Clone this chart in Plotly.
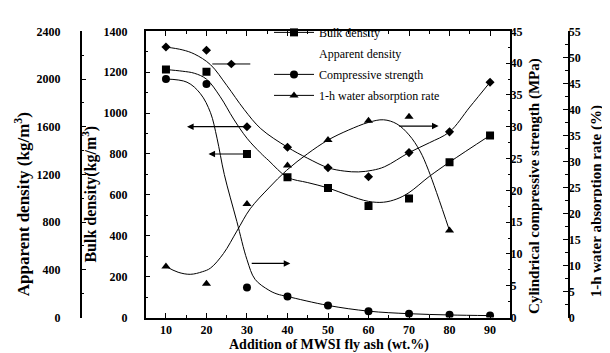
import plotly.graph_objects as go

W, H = 610, 353

# ---------------- data ----------------
x_add = [10, 20, 30, 40, 50, 60, 70, 80, 90]
bulk_density = [1213, 1202, 800, 686, 634, 545, 582, 760, 891]
apparent_density = [2268, 2241, 1600, 1428, 1256, 1181, 1383, 1557, 1973]
comp_strength = [37.5, 36.7, 4.7, 3.3, 1.9, 1.0, 0.6, 0.45, 0.3]
water_x = [10, 20, 30, 40, 50, 60, 70, 80]
water_abs = [9.8, 6.5, 21.8, 29.2, 34.1, 37.8, 38.6, 16.7]

# fitted trend curves (knots)
bulk_fit_x = [10, 14, 17, 20, 23.4, 26.7, 30, 33.3, 35.4, 40, 45, 50, 55, 60, 63.7, 67, 70, 75, 80, 90]
bulk_fit_y = [1213, 1205, 1195, 1166, 1080, 971, 877, 806, 767, 686, 660, 634, 598, 568, 564, 580, 611, 690, 760, 891]
app_fit_x = [10, 14, 17, 21, 25, 29.3, 33.4, 40, 45, 50, 54, 57.5, 61, 64, 70, 75, 80, 85, 90]
app_fit_y = [2268, 2245, 2210, 2120, 1947, 1745, 1584, 1428, 1335, 1256, 1228, 1221, 1235, 1265, 1383, 1465, 1557, 1765, 1973]
str_fit_x = [10, 15.2, 18.5, 21, 22.6, 24.4, 27.5, 30, 32, 35.4, 37.4, 40, 50, 60, 70, 80, 90]
str_fit_y = [37.5, 37.0, 35.2, 32.2, 28.2, 22.5, 15.1, 9.1, 6.0, 4.3, 3.7, 3.3, 1.9, 1.0, 0.6, 0.4, 0.3]
wat_fit_x = [10, 13, 16, 19, 21, 24.2, 27.5, 30.8, 35.4, 39.8, 45, 50, 55, 60, 63.7, 67, 70, 72.7, 74.8, 80]
wat_fit_y = [9.8, 8.7, 8.3, 8.8, 9.5, 12.3, 16.6, 20.9, 24.9, 28.3, 31.5, 34.1, 36.0, 37.5, 38.0, 37.2, 35.1, 32.0, 28.3, 16.7]

x_ticks = [10, 20, 30, 40, 50, 60, 70, 80, 90]

# ---------------- layout geometry ----------------
PX_L, PX_R, PY_T, PY_B = 137.7, 502.3, 17, 315
xdom = [PX_L / W, PX_R / W]
ydom = [(H - PY_B) / H, (H - PY_T) / H]
FONT = "Liberation Serif"
BLACK = "#000000"

fig = go.Figure()

def curve(x, y, yaxis):
    fig.add_trace(go.Scatter(x=x, y=y, yaxis=yaxis, mode="lines", line=dict(color=BLACK, width=1, shape="spline", smoothing=1.0),
                             showlegend=False, hoverinfo="skip"))

def marks(x, y, yaxis, symbol, size):
    fig.add_trace(go.Scatter(x=x, y=y, yaxis=yaxis, mode="markers",
                             marker=dict(symbol=symbol, size=size, color=BLACK, line=dict(width=0)),
                             showlegend=False))

curve(bulk_fit_x, bulk_fit_y, "y")
curve(app_fit_x, app_fit_y, "y2")
curve(str_fit_x, str_fit_y, "y3")
curve(wat_fit_x, wat_fit_y, "y4")
marks(x_add, bulk_density, "y", "square", 8)
marks(x_add, apparent_density, "y2", "diamond", 7)
marks(x_add, comp_strength, "y3", "circle", 8)
marks(water_x, water_abs, "y4", "triangle-up", 8)

# legend entries
legend_items = [("Bulk density", "square", 8, True),
                ("Apparent density", "diamond", 7, False),
                ("Compressive strength", "circle", 8, True),
                ("1-h water absorption rate", "triangle-up", 8, True)]
for i, (name, sym, sz, vis) in enumerate(legend_items):
    if vis:
        fig.add_trace(go.Scatter(x=[None], y=[None], name=name, mode="lines+markers",
                                 line=dict(color=BLACK, width=1),
                                 marker=dict(symbol=sym, size=sz, color=BLACK),
                                 legendgroup=f"g{i}"))
    else:
        fig.add_trace(go.Scatter(x=[None], y=[None], name=name, mode="lines",
                                 line=dict(color="rgba(0,0,0,0)", width=1),
                                 legendgroup=f"g{i}"))

tickfont = dict(family=FONT, size=12, color=BLACK, weight="bold")
common_y = dict(showline=True, linecolor=BLACK, linewidth=1.5, showgrid=False, zeroline=False,
                ticks="inside", ticklen=5, tickwidth=1.2, tickcolor=BLACK, tickfont=tickfont)

fig.update_layout(
    width=W, height=H, margin=dict(l=0, r=0, t=0, b=0),
    paper_bgcolor="white", plot_bgcolor="white",
    font=dict(family=FONT, color=BLACK),
    xaxis=dict(domain=xdom, range=[5, 95], showline=True, linecolor=BLACK, linewidth=1.5,
               mirror="ticks", showgrid=False, zeroline=False,
               tickvals=x_ticks, ticks="inside", ticklen=5, tickwidth=1.2, tickcolor=BLACK,
               minor=dict(tickvals=[15, 25, 35, 45, 55, 65, 75, 85], ticks="inside", ticklen=3, tickcolor=BLACK),
               tickfont=tickfont),
    yaxis=dict(domain=ydom, range=[0, 1400], anchor="x", side="left", dtick=200, tick0=0,
               minor=dict(dtick=100, ticks="inside", ticklen=3, tickcolor=BLACK),
               ticklabelstandoff=14, **common_y),
    yaxis2=dict(domain=ydom, range=[0, 2400], overlaying="y", anchor="free", position=72.7 / W, side="left",
                dtick=400, tick0=0, minor=dict(dtick=200, ticks="inside", ticklen=3, tickcolor=BLACK),
                ticklabelstandoff=17, **common_y),
    yaxis3=dict(domain=ydom, range=[0, 45], overlaying="y", anchor="x", side="right", dtick=5, tick0=0,
                minor=dict(dtick=2.5, ticks="inside", ticklen=3, tickcolor=BLACK),
                ticklabelstandoff=-4, **common_y),
    yaxis4=dict(domain=ydom, range=[0, 55], overlaying="y", anchor="free", position=560.7 / W, side="right",
                dtick=5, tick0=0, minor=dict(dtick=2.5, ticks="inside", ticklen=3, tickcolor=BLACK),
                ticklabelstandoff=-3, **common_y),
    legend=dict(x=261 / W, y=(H - 3) / H, xanchor="left", yanchor="top", bgcolor="rgba(0,0,0,0)",
                font=dict(family=FONT, size=12, color=BLACK), itemwidth=40,
                traceorder="grouped", tracegroupgap=2, borderwidth=0),
)

# axis titles: (text, x px, y px, angle, size)
titles = [
    ("Apparent density (kg/m<sup>3</sup>)", 14, 197, -90, 17),
    ("Bulk density(kg/m<sup>3</sup>)", 82, 187, -90, 16),
    ("Cylindrical compressive strength (MPa)", 527, 178, -90, 15),
    ("1-h water absorption rate (%)", 588, 194, -90, 15),
    ("Addition of MWSI fly ash (wt.%)", 321, 344, 0, 14),
]
for text, px, py, ang, fs in titles:
    fig.add_annotation(text=text, x=px / W, y=(H - py) / H, xref="paper", yref="paper",
                       showarrow=False, textangle=ang, borderpad=0,
                       font=dict(family=FONT, size=fs, color=BLACK, weight="bold"),
                       xanchor="center", yanchor="middle")

# indicator arrows: (axis, y value, tail x, head x)
arrows = [("y2", 1600, 30, 15.2), ("y", 800, 30, 20.5), ("y4", 36.8, 67.2, 77.3), ("y3", 8.5, 30.8, 40.7)]
for yref, yv, tx, hx in arrows:
    fig.add_annotation(x=hx, y=yv, ax=tx, ay=yv, xref="x", yref=yref, axref="x", ayref=yref,
                       showarrow=True, arrowhead=2, arrowsize=1.1, arrowwidth=1.2, arrowcolor=BLACK, text="",
                       standoff=0, startstandoff=0)

# stray legend key for apparent density (line with diamond) in paper coords
kx0, kx1, kxc, ky = 204.3, 242.3, 223.3, 51
fig.add_shape(type="line", xref="paper", yref="paper", x0=kx0 / W, x1=kx1 / W, y0=(H - ky) / H, y1=(H - ky) / H,
              line=dict(color=BLACK, width=1))
r = 4.5
path = f"M {kxc/W} {(H-ky+r)/H} L {(kxc+r)/W} {(H-ky)/H} L {kxc/W} {(H-ky-r)/H} L {(kxc-r)/W} {(H-ky)/H} Z"
fig.add_shape(type="path", xref="paper", yref="paper", path=path, fillcolor=BLACK, line=dict(color=BLACK, width=0))

fig.write_html("out.html")
